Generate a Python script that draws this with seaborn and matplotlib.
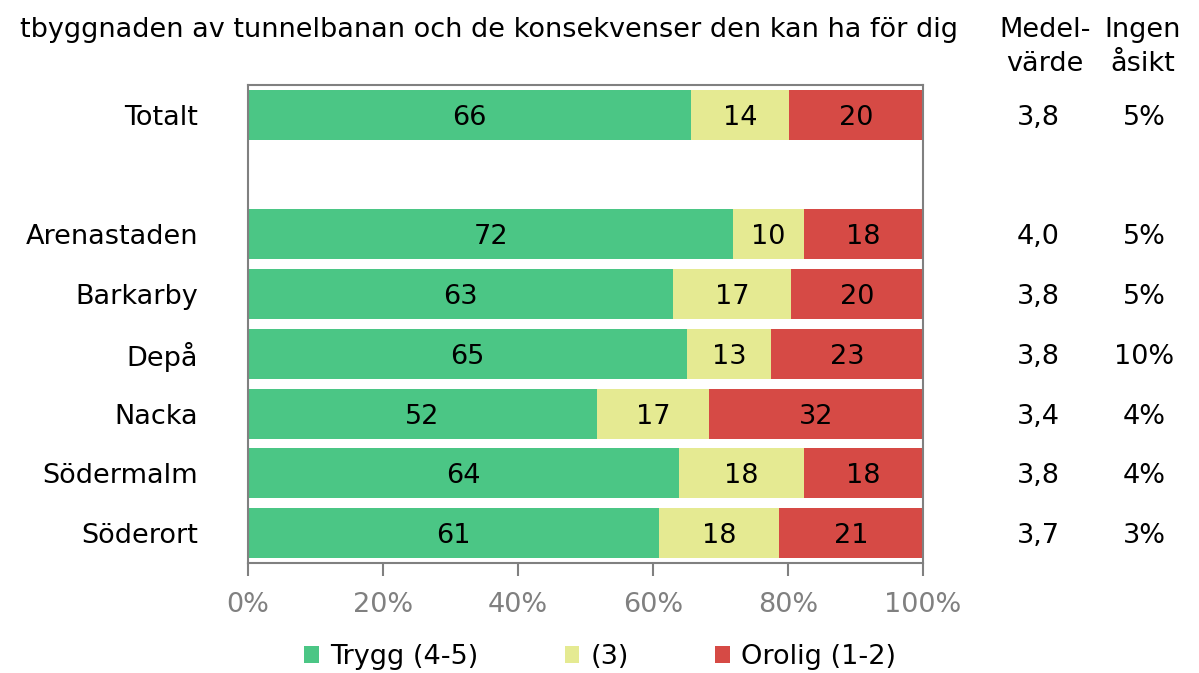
import matplotlib.pyplot as plt
import matplotlib.transforms as mtransforms
import pandas as pd
import seaborn as sns

# values
areas = ["Totalt", "Arenastaden", "Barkarby", "Depå", "Nacka", "Södermalm", "Söderort"]
trygg = [65.6, 71.9, 63.0, 65.1, 51.7, 63.9, 60.9]
neutral = [14.6, 10.4, 17.5, 12.4, 16.6, 18.4, 17.8]
orolig = [19.8, 17.7, 19.5, 22.5, 31.7, 17.7, 21.3]
trygg_labels = [66, 72, 63, 65, 52, 64, 61]
neutral_labels = [14, 10, 17, 13, 17, 18, 18]
orolig_labels = [20, 18, 20, 23, 32, 18, 21]
medelvarde = ["3,8", "4,0", "3,8", "3,8", "3,4", "3,8", "3,7"]
ingen_asikt = ["5%", "5%", "5%", "10%", "4%", "4%", "3%"]
series = ["Trygg (4-5)", "(3)", "Orolig (1-2)"]
colors = ["#4bc685", "#e5ea92", "#d64a45"]
title = "tbyggnaden av tunnelbanan och de konsekvenser den kan ha för dig"

# empty slot between Totalt and the areas
order = [areas[0], ""] + areas[1:]

sns.set_theme(style="white")
plt.rcParams["font.family"] = ["DejaVu Sans"]
plt.rcParams["text.color"] = "black"
fs = 19.5
grey = "#808080"

df = pd.DataFrame({"area": areas, "trygg": trygg, "neutral": neutral, "orolig": orolig})
df["end_neutral"] = df["trygg"] + df["neutral"]
df["end_orolig"] = df["end_neutral"] + df["orolig"]

fig = plt.figure(figsize=(11.99, 6.73), dpi=100)
ax = fig.add_axes([248 / 1199, 110 / 673, 675 / 1199, 478 / 673])

# stacked bars: draw the cumulative totals back to front
for col, color, name in zip(["end_orolig", "end_neutral", "trygg"], colors[::-1], series[::-1]):
    sns.barplot(data=df, y="area", x=col, order=order, color=color, saturation=1,
                width=0.84, errorbar=None, linewidth=0, label=name, ax=ax)

handles, labels = ax.get_legend_handles_labels()
if ax.get_legend() is not None:
    ax.get_legend().remove()

for i, area in enumerate(areas):
    y = order.index(area)
    starts = [0, trygg[i], trygg[i] + neutral[i]]
    widths = [trygg[i], neutral[i], orolig[i]]
    labs = [trygg_labels[i], neutral_labels[i], orolig_labels[i]]
    for s, w, lab in zip(starts, widths, labs):
        ax.text(s + w / 2, y, str(lab), ha="center", va="center_baseline", fontsize=fs, color="black")

ax.set_xlim(0, 100)
ax.set_xticks([0, 20, 40, 60, 80, 100])
ax.set_xticklabels([f"{t}%" for t in range(0, 101, 20)])
ax.set_xlabel("")
ax.set_ylabel("")
for sp in ax.spines.values():
    sp.set_visible(True)
    sp.set_color(grey)
    sp.set_linewidth(1.5)
ax.tick_params(axis="x", bottom=True, direction="out", length=9, width=1.5, color=grey,
               labelcolor=grey, labelsize=fs, pad=12)
ax.tick_params(axis="y", left=False, labelsize=fs, labelcolor="black", pad=30)

# side columns
trans = mtransforms.blended_transform_factory(fig.transFigure, ax.transData)
for i, area in enumerate(areas):
    y = order.index(area)
    ax.text(1038 / 1199, y, medelvarde[i], transform=trans, ha="center", va="center_baseline", fontsize=fs)
    ax.text(1144 / 1199, y, ingen_asikt[i], transform=trans, ha="center", va="center_baseline", fontsize=fs)

fig.text(958 / 1199, 1 - 37 / 673, title, ha="right", va="baseline", fontsize=fs)
fig.text(1045 / 1199, 1 - 37 / 673, "Medel-", ha="center", va="baseline", fontsize=fs)
fig.text(1045 / 1199, 1 - 71 / 673, "värde", ha="center", va="baseline", fontsize=fs)
fig.text(1143 / 1199, 1 - 37 / 673, "Ingen", ha="center", va="baseline", fontsize=fs)
fig.text(1143 / 1199, 1 - 71 / 673, "åsikt", ha="center", va="baseline", fontsize=fs)

fig.legend(handles[::-1], labels[::-1], loc="center", bbox_to_anchor=(600 / 1199, 16 / 673), ncol=3,
           frameon=False, fontsize=fs, handlelength=0.55, handleheight=0.55,
           handletextpad=0.4, columnspacing=3.2, labelcolor="black")

fig.savefig("out.png", dpi=100)
